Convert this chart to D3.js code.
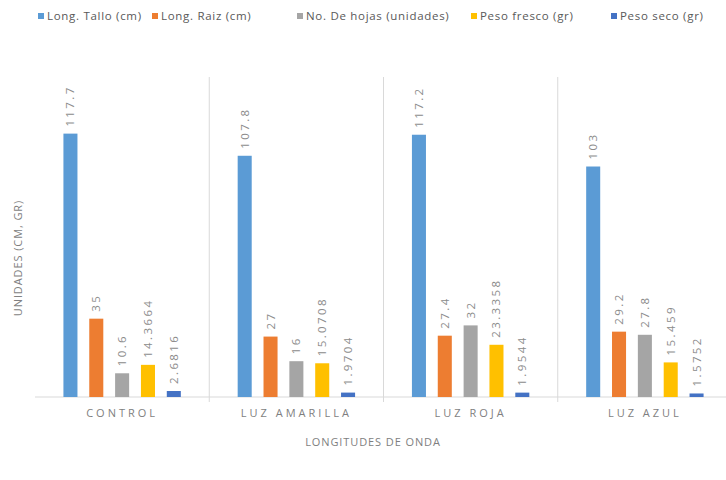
<!DOCTYPE html>
<html>
<head>
<meta charset="utf-8">
<script src="https://cdn.jsdelivr.net/npm/d3@7"></script>
<style>
  body { margin: 0; background: #fff; }
  svg { font-family: "Open Sans", "Liberation Sans", Arial, sans-serif; }
</style>
</head>
<body>
<script>
// data
let categories = ['CONTROL', 'LUZ AMARILLA', 'LUZ ROJA', 'LUZ AZUL'];
let seriesNames = ['Long. Tallo (cm)', 'Long. Raiz (cm)', 'No. De hojas (unidades)', 'Peso fresco (gr)', 'Peso seco (gr)'];
let tallo  = [117.7, 107.8, 117.2, 103];
let raiz   = [35, 27, 27.4, 29.2];
let hojas  = [10.6, 16, 32, 27.8];
let fresco = [14.3664, 15.0708, 23.3358, 15.459];
let seco   = [2.6816, 1.9704, 1.9544, 1.5752];
let colors = ['#5b9bd5', '#ed7d31', '#a5a5a5', '#ffc000', '#4472c4'];

let seriesValues = [tallo, raiz, hojas, fresco, seco];

let w = 726, h = 480;
let padLeft = 35, padRight = 732, padTop = 77, baseY = 397;

let svg = d3.select('body')
  .append('svg')
  .attr('width', w)
  .attr('height', h);

let x = d3.scaleBand()
  .domain(categories)
  .range([padLeft, padRight])
  .paddingInner(0)
  .paddingOuter(0);

let xs = d3.scaleBand()
  .domain(seriesNames)
  .range([0, x.bandwidth()])
  .paddingInner(0.457)
  .paddingOuter(1.1);

let y = d3.scaleLinear()
  .domain([0, 143])
  .range([baseY, padTop]);

// category separators
svg.selectAll('line.sep')
  .data(categories.slice(1))
  .enter()
  .append('line')
  .attr('class', 'sep')
  .attr('x1', d => x(d))
  .attr('x2', d => x(d))
  .attr('y1', padTop)
  .attr('y2', baseY + 5)
  .attr('stroke', '#d9d9d9')
  .attr('stroke-width', 1);

// baseline
svg.append('line')
  .attr('x1', padLeft)
  .attr('x2', w)
  .attr('y1', baseY)
  .attr('y2', baseY)
  .attr('stroke', '#d9d9d9');

let rows = [];
seriesNames.forEach((s, si) => {
  categories.forEach((c, ci) => {
    rows.push({ s: s, si: si, c: c, v: seriesValues[si][ci] });
  });
});

svg.selectAll('rect.bar')
  .data(rows)
  .enter()
  .append('rect')
  .attr('class', 'bar')
  .attr('x', d => x(d.c) + xs(d.s))
  .attr('y', d => y(d.v))
  .attr('width', xs.bandwidth())
  .attr('height', d => baseY - y(d.v))
  .attr('fill', d => colors[d.si]);

// rotated data labels
svg.selectAll('text.lbl')
  .data(rows)
  .enter()
  .append('text')
  .attr('class', 'lbl')
  .attr('transform', d => `translate(${x(d.c) + xs(d.s) + xs.bandwidth() / 2 + 4},${y(d.v) - 7}) rotate(-90)`)
  .attr('text-anchor', 'start')
  .style('font-size', '11.5px')
  .style('letter-spacing', '2.4px')
  .attr('fill', '#8c8c8c')
  .text(d => d.v);

// category labels
svg.selectAll('text.cat')
  .data(categories)
  .enter()
  .append('text')
  .attr('class', 'cat')
  .attr('x', d => x(d) + x.bandwidth() / 2)
  .attr('y', 417)
  .attr('text-anchor', 'middle')
  .style('font-size', '11px')
  .style('letter-spacing', '3px')
  .attr('fill', '#7f7f7f')
  .text(d => d);

// axis titles
svg.append('text')
  .attr('x', 373)
  .attr('y', 446)
  .attr('text-anchor', 'middle')
  .style('font-size', '11px')
  .style('letter-spacing', '0.9px')
  .attr('fill', '#7f7f7f')
  .text('LONGITUDES DE ONDA');

svg.append('text')
  .attr('transform', 'translate(22,258) rotate(-90)')
  .attr('text-anchor', 'middle')
  .style('font-size', '11px')
  .style('letter-spacing', '0.9px')
  .attr('fill', '#7f7f7f')
  .text('UNIDADES (CM, GR)');

// legend
let legendX = [38, 152, 297, 471, 611];
let legend = svg.selectAll('g.leg')
  .data(seriesNames)
  .enter()
  .append('g')
  .attr('class', 'leg')
  .attr('transform', (d, i) => `translate(${legendX[i]},17)`);

legend.append('rect')
  .attr('x', 0)
  .attr('y', -4)
  .attr('width', 6)
  .attr('height', 6)
  .attr('fill', (d, i) => colors[i]);

legend.append('text')
  .attr('x', 9)
  .attr('y', 3)
  .style('font-size', '11.5px')
  .style('letter-spacing', '0.7px')
  .attr('fill', '#595959')
  .text(d => d);
</script>
</body>
</html>
